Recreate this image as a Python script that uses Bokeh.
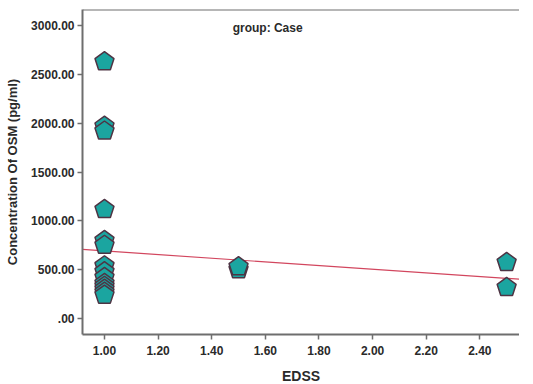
from bokeh.plotting import figure
from bokeh.models import ColumnDataSource, FixedTicker, Label, Range1d, Span
from bokeh.embed import file_html
from bokeh.resources import INLINE

# data
edss = [1.0, 1.0, 1.0, 1.0, 1.0, 1.0, 1.0, 1.0, 1.0, 1.0, 1.0, 1.0, 1.0, 1.0,
        1.5, 1.5, 2.5, 2.5]
osm = [2630, 1970, 1920, 1117, 800, 750, 540, 480, 420, 360, 330, 300, 270, 240,
       500, 530, 574, 318]
fit_x = [0.918, 2.56]
fit_y = [707, 400]
y_ticks = [0, 500, 1000, 1500, 2000, 2500, 3000]
y_labels = [".00", "500.00", "1000.00", "1500.00", "2000.00", "2500.00", "3000.00"]
x_ticks = [1.0, 1.2, 1.4, 1.6, 1.8, 2.0, 2.2, 2.4]
x_labels = ["1.00", "1.20", "1.40", "1.60", "1.80", "2.00", "2.20", "2.40"]

FONT = "Liberation Sans"
TXT = "#2a2a2a"
AX = "#6e6e6e"
Y_TOP = 3164

p = figure(frame_width=437, frame_height=325, output_backend="svg", toolbar_location=None,
           x_range=Range1d(0.918, 2.548), y_range=Range1d(-164, Y_TOP),
           min_border_left=82, min_border_right=0, min_border_top=9,
           min_border_bottom=50, x_axis_label="EDSS",
           y_axis_label="Concentration Of OSM (pg/ml)")
p.grid.visible = False
p.outline_line_color = None
p.background_fill_color = "white"

for ax in (p.xaxis[0], p.yaxis[0]):
    ax.axis_line_color = AX
    ax.axis_line_width = 2
    ax.major_tick_line_color = AX
    ax.major_tick_line_width = 1.5
    ax.major_tick_out = 5
    ax.major_tick_in = 0
    ax.minor_tick_line_color = None
    ax.major_label_text_font = FONT
    ax.major_label_text_font_style = "bold"
    ax.major_label_text_font_size = "12px"
    ax.major_label_text_color = TXT
    ax.axis_label_text_font = FONT
    ax.axis_label_text_font_style = "bold"
    ax.axis_label_text_color = TXT

p.yaxis[0].ticker = FixedTicker(ticks=y_ticks)
p.yaxis[0].major_label_overrides = dict(zip(y_ticks, y_labels))
p.yaxis[0].axis_label_text_font_size = "13px"
p.yaxis[0].axis_label_standoff = 8
p.yaxis[0].major_label_standoff = 3
p.xaxis[0].ticker = FixedTicker(ticks=x_ticks)
p.xaxis[0].major_label_overrides = dict(zip(x_ticks, x_labels))
p.xaxis[0].axis_label_text_font_size = "14px"
p.xaxis[0].axis_label_standoff = 10
p.xaxis[0].major_label_standoff = 6

# top border of the frame
p.add_layout(Span(location=Y_TOP, dimension="width", line_color=AX, line_width=2))

p.line(fit_x, fit_y, line_color="#d2465e", line_width=1.2)

src = ColumnDataSource(dict(x=edss, y=osm))
p.ngon(x="x", y="y", radius=10, radius_units="screen", n=5, angle=0,
       fill_color="#1ba5a0", line_color="#4e3444", line_width=1.5, source=src)

p.add_layout(Label(x=1.478, y=2979, text="group: Case", text_font=FONT,
                   text_font_style="bold", text_font_size="12px", text_color=TXT,
                   text_baseline="middle"))

open("out.html", "w").write(file_html(p, INLINE))
